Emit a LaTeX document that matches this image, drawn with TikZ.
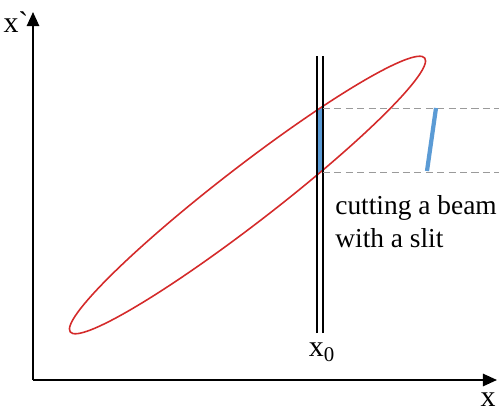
\documentclass[tikz,border=0pt]{standalone}
\usepackage{fontspec}
\setmainfont{Liberation Serif}
\usepackage{tikz}
\usetikzlibrary{arrows.meta,positioning,calc}
\definecolor{BeamRed}{HTML}{D42A2A}
\definecolor{SlitBlue}{HTML}{5B9BD5}
\definecolor{GuideGray}{HTML}{9A9A9A}

\begin{document}
\begin{tikzpicture}[x=0.02cm,y=0.02cm,>={Triangle[length=8pt,width=7pt]}, every node/.style={font=\fontsize{17}{19}\selectfont, inner sep=0pt}, axis/.style={->, line width=1.1pt, black}, slitline/.style={line width=1.1pt, black}, guide/.style={GuideGray, line width=0.5pt, dash pattern=on 4pt off 2.5pt}]
        \useasboundingbox (0,0) rectangle (499,412);
        \coordinate (origin) at (33,32);
        \coordinate (ytip) at (33,400);
        \coordinate (xtip) at (497,32);
        \coordinate (center) at (247.5,217);
        % slit acceptance inside the emittance ellipse
        \begin{scope}
            \clip[rotate around={37.7:(center)}] (center) ellipse [x radius=224, y radius=28];
            \fill[SlitBlue] (317,0) rectangle (323,412);
        \end{scope}
        \draw[BeamRed, line width=0.9pt, rotate around={37.7:(center)}] (center) ellipse [x radius=224, y radius=28];
        \draw[slitline] (317,79) -- (317,356);
        \draw[slitline] (323,79) -- (323,356);
        \draw[guide] (323,304) -- (499,304);
        \draw[guide] (323,240) -- (499,240);
        \draw[SlitBlue, line width=2.4pt] (436,304) -- (427,241);
        \draw[axis] (origin) -- (ytip);
        \draw[axis] (origin) -- (xtip);
        \node (xplabel) at (16,390) {x\textasciigrave};
        \node (xlabel) at (488,12) {x};
        \node (xzero) at (322,60) {x\textsubscript{0}};
        \node[anchor=north west, align=left, font=\fontsize{15.6}{18.8}\selectfont] (cut) at (335,217) {cutting a beam\\with a slit};
    \end{tikzpicture}
\end{document}
